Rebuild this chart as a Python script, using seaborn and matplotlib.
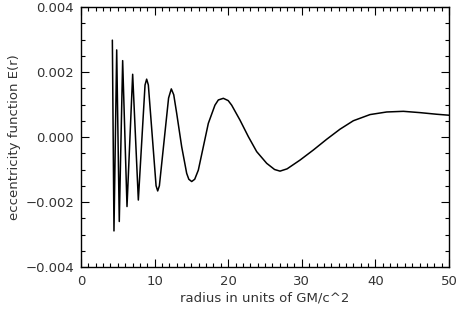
import matplotlib
matplotlib.use("Agg")
import matplotlib.pyplot as plt
import seaborn as sns
import pandas as pd
from matplotlib.ticker import MultipleLocator

radius = [4.26, 4.48, 4.85, 5.2, 5.66, 6.25, 7.02, 7.79, 8.7, 8.92, 9.15,
          10.2, 10.42, 10.65, 11.9, 12.27, 12.6, 13.0, 13.68, 14.36, 14.65,
          15.04, 15.45, 15.94, 16.62, 17.3, 18.2, 18.66, 19.34, 20.0, 20.47,
          21.6, 22.74, 23.87, 25.23, 26.3, 27.04, 28.0, 29.76, 31.57, 33.38,
          35.19, 37.0, 39.27, 41.54, 43.8, 46.06, 48.33, 50.0]
ecc = [0.00298, -0.00289, 0.00268, -0.0026, 0.00235, -0.00214, 0.00193,
       -0.00194, 0.0016, 0.00178, 0.0016, -0.0015, -0.00166, -0.0015,
       0.0012, 0.00148, 0.0013, 0.00073, -0.0003, -0.00112, -0.0013,
       -0.00137, -0.0013, -0.00102, -0.0003, 0.00042, 0.00098, 0.00114,
       0.00119, 0.00112, 0.00098, 0.00052, 0.00001, -0.00045, -0.00081,
       -0.001, -0.00105, -0.00098, -0.00071, -0.0004, -0.00007, 0.00024,
       0.0005, 0.00069, 0.00077, 0.00079, 0.00075, 0.0007, 0.00067]

x_ticks = [0, 10, 20, 30, 40, 50]
y_ticks = [-0.004, -0.002, 0.000, 0.002, 0.004]
y_tick_labels = ["\u22120.004", "\u22120.002", "0.000", "0.002", "0.004"]

df = pd.DataFrame({"radius": radius, "ecc": ecc})

sns.set_theme(style="white")
plt.rcParams["font.family"] = ["DejaVu Sans"]

fig = plt.figure(figsize=(4.58, 3.11), dpi=100)
ax = fig.add_axes([81 / 458, 1 - 267 / 311, (449 - 81) / 458, (267 - 7) / 311])

sns.lineplot(data=df, x="radius", y="ecc", ax=ax, color="black", linewidth=1.1,
             sort=False, estimator=None)

ax.set_xlim(0, 50)
ax.set_ylim(-0.004, 0.004)
ax.set_xticks(x_ticks)
ax.set_xticklabels([str(t) for t in x_ticks])
ax.set_yticks(y_ticks)
ax.set_yticklabels(y_tick_labels)
ax.xaxis.set_minor_locator(MultipleLocator(1))
ax.yaxis.set_minor_locator(MultipleLocator(0.0005))
ax.tick_params(which="both", direction="in", top=True, right=True,
               bottom=True, left=True, color="black", labelcolor="#333333",
               labelsize=9.5)
ax.tick_params(which="major", length=6, width=0.8)
ax.tick_params(axis="y", which="major", pad=5)
ax.tick_params(axis="x", which="major", pad=6)
ax.tick_params(which="minor", length=3, width=0.8)
for s in ax.spines.values():
    s.set_color("black")
    s.set_linewidth(1.0)

ax.set_xlabel("radius in units of GM/c^2", fontsize=9.5, color="#333333", labelpad=2)
ax.set_ylabel("eccentricity function E(r)", fontsize=9.5, color="#333333", labelpad=3)

fig.savefig("out.png", dpi=100)
